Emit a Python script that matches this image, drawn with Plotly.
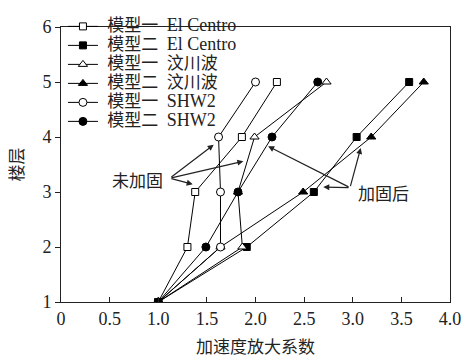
import plotly.graph_objects as go

floors = [1, 2, 3, 4, 5]
m1_elcentro = [1.0, 1.30, 1.38, 1.86, 2.22]
m2_elcentro = [1.0, 1.91, 2.60, 3.04, 3.58]
m1_wenchuan = [1.0, 1.865, 1.82, 1.99, 2.73]
m2_wenchuan = [1.0, 1.64, 2.49, 3.19, 3.73]
m1_shw2 = [1.0, 1.64, 1.64, 1.62, 2.00]
m2_shw2 = [1.0, 1.49, 1.82, 2.17, 2.64]

model_names = ["模型一", "模型二", "模型一", "模型二", "模型一", "模型二"]
wave_names = ["El Centro", "El Centro", "汶川波", "汶川波", "SHW2", "SHW2"]
series_vals = [m1_elcentro, m2_elcentro, m1_wenchuan, m2_wenchuan, m1_shw2, m2_shw2]
symbols = ["square", "square", "triangle-up", "triangle-up", "circle", "circle"]
fills = ["white", "black", "white", "black", "white", "black"]
sizes = [7, 7, 8, 8, 8, 8]

FONT = "Liberation Serif, Noto Sans CJK SC"
CJK = "Noto Sans CJK SC, Liberation Serif"

fig = go.Figure()
for mn, wn, vals, sym, fc, sz in zip(model_names, wave_names, series_vals, symbols, fills, sizes):
    wsize = 18 if wn.isascii() else 17
    label = (f"<span style='font-size:17px'> {mn}  </span>"
             f"<span style='font-size:{wsize}px'>{wn}</span>")
    fig.add_trace(go.Scatter(
        x=vals, y=floors, mode="lines+markers", name=label,
        line=dict(color="black", width=1),
        marker=dict(symbol=sym, size=sz, color=fc, line=dict(color="black", width=1)),
    ))

# annotations: labels and arrows
ann = []
ann.append(dict(x=0.79, y=3.23, xref="x", yref="y", text="未加固", showarrow=False,
                font=dict(family=CJK, size=17, color="#222")))
for hx, hy in [(1.57, 3.86), (1.875, 3.56), (1.354, 3.14)]:
    ann.append(dict(x=hx, y=hy, ax=1.12, ay=3.25, xref="x", yref="y", axref="x", ayref="y",
                    text="", showarrow=True, arrowhead=2, arrowsize=1, arrowwidth=1.2,
                    arrowcolor="#222"))
ann.append(dict(x=3.314, y=2.995, xref="x", yref="y", text="加固后", showarrow=False,
                font=dict(family=CJK, size=17, color="#222")))
for hx, hy in [(2.13, 3.83), (2.697, 3.09), (3.082, 3.80)]:
    ann.append(dict(x=hx, y=hy, ax=2.972, ay=3.08, xref="x", yref="y", axref="x", ayref="y",
                    text="", showarrow=True, arrowhead=2, arrowsize=1, arrowwidth=1.2,
                    arrowcolor="#222"))

fig.update_layout(
    width=468, height=360,
    margin=dict(l=61, r=18, t=13, b=58),
    plot_bgcolor="white", paper_bgcolor="white",
    font=dict(family=FONT, size=18, color="#222"),
    showlegend=True,
    legend=dict(x=0.005, y=1.055, xanchor="left", yanchor="top", bgcolor="rgba(0,0,0,0)",
                font=dict(family=FONT, size=12, color="#222"), borderwidth=0),
    annotations=ann,
)
fig.update_xaxes(range=[0, 4.0], tickvals=[0, 0.5, 1.0, 1.5, 2.0, 2.5, 3.0, 3.5, 4.0],
                 ticktext=["0", "0.5", "1.0", "1.5", "2.0", "2.5", "3.0", "3.5", "4.0"],
                 ticks="inside", ticklen=5, tickcolor="#222", showline=True, linecolor="#222",
                 linewidth=1, mirror=True, showgrid=False, zeroline=False, automargin=False,
                 tickfont=dict(size=18),
                 title=dict(text="加速度放大系数", font=dict(family=CJK, size=17), standoff=13))
fig.update_yaxes(range=[1, 6], tickvals=[1, 2, 3, 4, 5, 6],
                 ticks="outside", ticklen=5, tickcolor="#222", showline=True, linecolor="#222",
                 linewidth=1, mirror=True, showgrid=False, zeroline=False, automargin=False,
                 tickfont=dict(size=18),
                 title=dict(text="楼层", font=dict(family=CJK, size=17), standoff=14))

fig.write_html("out.html", config={"displayModeBar": False},
               post_script="document.body.style.margin='0';")
